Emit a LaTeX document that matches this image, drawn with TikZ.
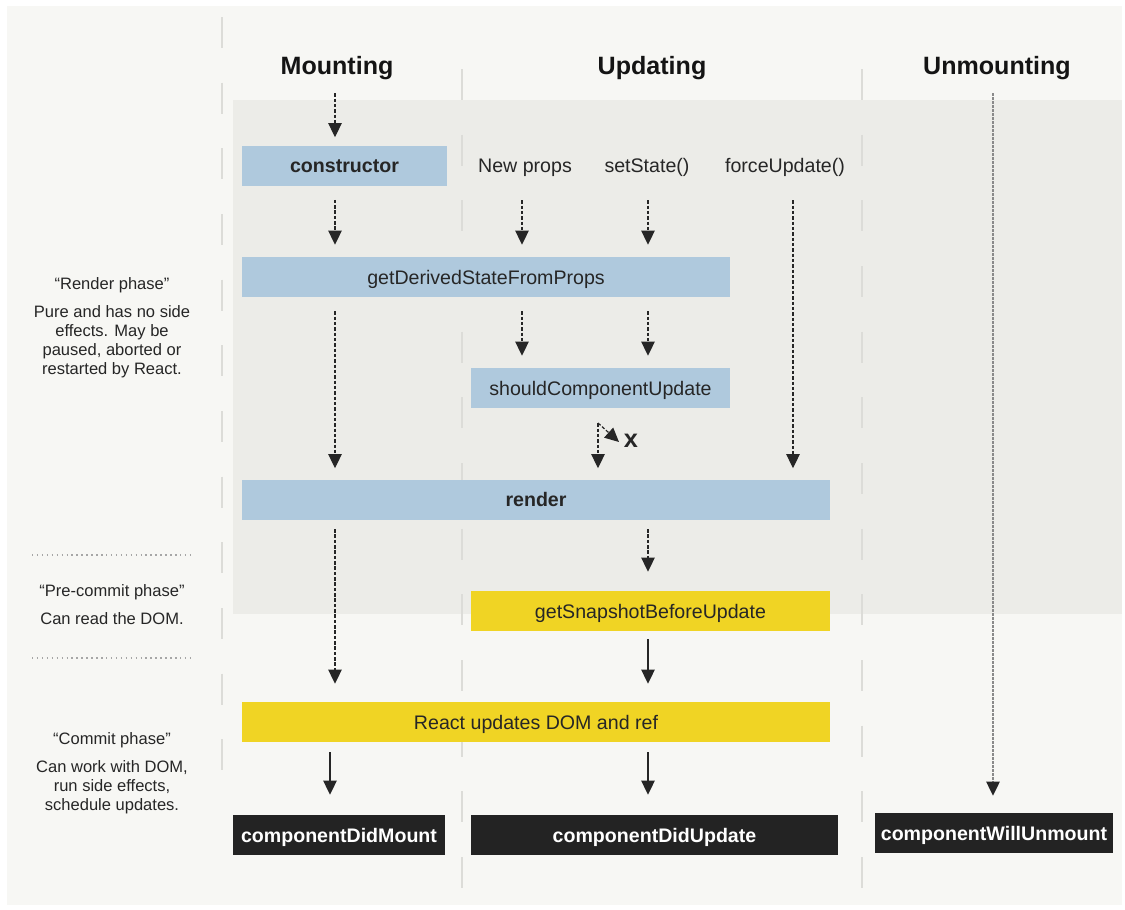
\documentclass[tikz,border=0pt]{standalone}
\usepackage{fontspec}
\setmainfont{Liberation Sans}
\usetikzlibrary{arrows.meta}

\definecolor{pagebg}{HTML}{F7F7F4}
\definecolor{bandbg}{HTML}{ECECE8}
\definecolor{sepgray}{HTML}{DCDCD8}
\definecolor{boxblue}{HTML}{AFC9DD}
\definecolor{boxyellow}{HTML}{F0D424}
\definecolor{boxblack}{HTML}{232323}
\definecolor{ink}{HTML}{262626}
\definecolor{dotink}{HTML}{8A8A8A}

\begin{document}
\begin{tikzpicture}[x=0.75pt, y=-0.75pt,
  box/.style={inner sep=0pt, minimum height=30pt, text=ink,
    text height=11pt, text depth=0.5pt, font=\fontsize{14.7}{17}\selectfont},
  bluebox/.style={box, fill=boxblue},
  yellowbox/.style={box, fill=boxyellow},
  endbox/.style={box, fill=boxblack, text=white,
    font=\bfseries\fontsize{14.7}{17}\selectfont},
  phasehead/.style={anchor=base, inner sep=0pt, text=black!92,
    text height=13pt, text depth=4pt, font=\bfseries\fontsize{18.8}{22}\selectfont},
  trigger/.style={anchor=base, inner sep=0pt, text=ink,
    text height=11pt, text depth=3pt, font=\fontsize{14.7}{17}\selectfont},
  sidenote/.style={inner sep=0pt, text=ink, align=center,
    font=\fontsize{12.4}{14.25}\selectfont},
  flow/.style={draw=ink, line width=0.9pt, -{Triangle[length=10.5pt,width=10pt]}},
  dflow/.style={flow, dash pattern=on 2.6pt off 1.4pt},
  dotflow/.style={draw=dotink, line width=1pt, dash pattern=on 1.8pt off 1.2pt,
    -{Triangle[length=10.5pt,width=10pt,color=ink]}},
  colsep/.style={draw=sepgray, line width=1pt, dash pattern=on 23.25pt off 26pt},
  phasesep/.style={draw=black!35, line width=1.1pt, dash pattern=on 1.1pt off 2.6pt}
]
\useasboundingbox (0,0) rectangle (1125,910);
\fill[white] (0,0) rectangle (1125,910);

% page and render-phase band
\fill[pagebg] (7,6) rectangle (1122,905);
\fill[bandbg] (233,100) rectangle (1122,614);

% column separators
\draw[colsep] (222,17) -- (222,771);
\draw[colsep] (462,69) -- (462,888);
\draw[colsep] (862,69) -- (862,888);

% phase separators in the side column
\draw[phasesep] (32,555) -- (193,555);
\draw[phasesep] (32,658) -- (193,658);

% arrow columns
\coordinate (colM) at (335,0);
\coordinate (colMb) at (330,0);
\coordinate (colA) at (522,0);
\coordinate (colB) at (648,0);
\coordinate (colC) at (598,0);
\coordinate (colD) at (793,0);
\coordinate (colU) at (993,0);

% headings
\node[phasehead] (hmount) at (337,74) {Mounting};
\node[phasehead] (hupdate) at (652,74) {Updating};
\node[phasehead] (hunmount) at (997,74) {Unmounting};

% triggers of an update
\node[trigger] (newprops) at (525,172.5) {New props};
\node[trigger] (setstate) at (647,172.5) {setState()};
\node[trigger] (forceupd) at (785,172.5) {forceUpdate()};

% lifecycle boxes
\node[bluebox, minimum width=153.75pt, font=\bfseries\fontsize{14.7}{17}\selectfont]
  (ctor) at (344.5,165.5) {constructor};
\node[bluebox, minimum width=366pt] (gdsfp) at (486,277) {getDerivedStateFromProps};
\node[bluebox, minimum width=194.25pt] (scu) at (600.5,388) {shouldComponentUpdate};
\node[bluebox, minimum width=441pt, font=\bfseries\fontsize{14.7}{17}\selectfont]
  (render) at (536,499.5) {render};
\node[yellowbox, minimum width=269.25pt] (gsbu) at (650.5,611) {getSnapshotBeforeUpdate};
\node[yellowbox, minimum width=441pt] (rud) at (536,722) {React updates DOM and ref};
\node[endbox, minimum width=159pt] (cdm) at (339,835) {componentDidMount};
\node[endbox, minimum width=275.25pt] (cdu) at (654.5,835) {componentDidUpdate};
\node[endbox, minimum width=178.5pt] (cwu) at (994,833) {componentWillUnmount};

% side notes
\node[sidenote] (rphase) at (112,285) {“Render phase”};
\node[sidenote] (rnote) at (112,342) {Pure and has no side\\effects. May be\\paused, aborted or\\restarted by React.};
\node[sidenote] (pphase) at (112,592) {“Pre-commit phase”};
\node[sidenote] (pnote) at (112,619) {Can read the DOM.};
\node[sidenote] (cphase) at (112,740) {“Commit phase”};
\node[sidenote] (cnote) at (112,787) {Can work with DOM,\\run side effects,\\schedule updates.};

% mounting flow
\draw[dflow, shorten <=10.3pt, shorten >=6pt] (hmount.south -| colM) -- (ctor.north -| colM);
\draw[dflow, shorten <=10.5pt, shorten >=9pt] (ctor.south -| colM) -- (gdsfp.north -| colM);
\draw[dflow, shorten <=10.5pt, shorten >=8.25pt] (gdsfp.south -| colM) -- (render.north -| colM);
\draw[dflow, shorten <=7pt, shorten >=13.5pt] (render.south -| colM) -- (rud.north -| colM);
\draw[flow, shorten <=7.5pt, shorten >=15pt] (rud.south -| colMb) -- (cdm.north -| colMb);

% updating flow
\draw[dflow, shorten <=17.6pt, shorten >=9pt] (newprops.south -| colA) -- (gdsfp.north -| colA);
\draw[dflow, shorten <=17.6pt, shorten >=9pt] (setstate.south -| colB) -- (gdsfp.north -| colB);
\draw[dflow, shorten <=17.6pt, shorten >=8.25pt] (forceupd.south -| colD) -- (render.north -| colD);
\draw[dflow, shorten <=10.5pt, shorten >=9pt] (gdsfp.south -| colA) -- (scu.north -| colA);
\draw[dflow, shorten <=10.5pt, shorten >=9pt] (gdsfp.south -| colB) -- (scu.north -| colB);
\draw[dflow, shorten <=11.25pt, shorten >=8.25pt] (scu.south -| colC) -- (render.north -| colC);
\coordinate (fork) at (598,423);
\coordinate (skip) at (619,442);
\draw[dflow] (fork) -- (skip);
\node[inner sep=0pt, text=ink, font=\bfseries\fontsize{19}{22}\selectfont] (nope) at (631,441) {x};
\draw[dflow, shorten <=7pt, shorten >=14.25pt] (render.south -| colB) -- (gsbu.north -| colB);
\draw[flow, shorten <=6pt, shorten >=13.5pt] (gsbu.south -| colB) -- (rud.north -| colB);
\draw[flow, shorten <=7.5pt, shorten >=15pt] (rud.south -| colB) -- (cdu.north -| colB);

% unmounting flow
\draw[dotflow, shorten <=10.3pt, shorten >=12.75pt] (hunmount.south -| colU) -- (cwu.north -| colU);
\end{tikzpicture}
\end{document}
